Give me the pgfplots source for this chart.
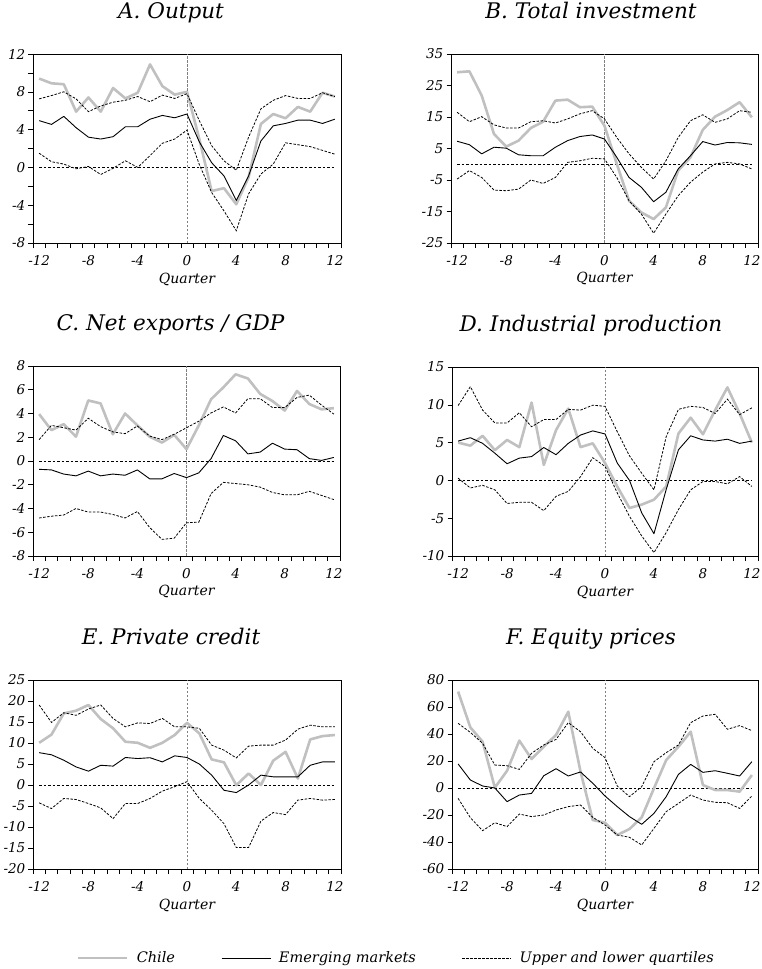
\documentclass[border=0pt]{standalone}
\usepackage{fontspec}
\setmainfont{DejaVu Serif}
\usepackage{pgfplots}
\usepackage{pgfplotstable}
\pgfplotsset{compat=1.18}
\definecolor{chilegray}{RGB}{192,192,192}

\pgfplotstableread{
x c e u l
-12 9.4 4.95 7.25 1.5
-11 8.9 4.55 7.6 0.6
-10 8.8 5.4 8.0 0.35
-9 5.9 4.2 7.25 -0.15
-8 7.4 3.2 5.9 0.1
-7 5.9 3.0 6.5 -0.75
-6 8.4 3.25 6.9 -0.1
-5 7.3 4.3 7.1 0.7
-4 7.9 4.3 7.5 0.0
-3 10.9 5.1 6.95 1.25
-2 8.6 5.5 7.65 2.55
-1 7.7 5.25 7.3 3.0
0 8.0 5.65 7.8 3.95
1 3.0 2.7 4.95 0.3
2 -2.5 0.5 2.3 -2.65
3 -2.2 -0.9 0.7 -4.6
4 -3.9 -3.5 -0.3 -6.7
5 -1.05 -0.9 3.2 -2.8
6 4.6 2.8 6.2 -0.7
7 5.65 4.4 7.1 0.35
8 5.2 4.65 7.6 2.6
9 6.4 5.0 7.3 2.4
10 5.9 5.0 7.3 2.2
11 7.9 4.65 7.9 1.8
12 7.5 5.1 7.5 1.4
}\dataA

\pgfplotstableread{
x c e u l
-12 29.2 7.3 16.5 -4.7
-11 29.5 6.2 13.5 -2.0
-10 21.8 3.3 15.1 -4.2
-9 9.6 5.4 12.5 -8.2
-8 5.6 5.1 11.5 -8.4
-7 7.5 3.0 11.5 -7.9
-6 11.5 2.7 13.5 -5.0
-5 13.5 2.7 13.8 -6.1
-4 20.2 5.4 13.1 -4.2
-3 20.5 7.5 14.4 0.6
-2 18.1 8.8 16.0 1.1
-1 18.3 9.3 17.0 1.9
0 12.2 8.0 14.4 1.7
1 0.1 2.2 8.5 -4.2
2 -11.6 -4.2 3.3 -11.6
3 -15.3 -7.3 -1.0 -15.8
4 -17.4 -11.9 -4.7 -21.9
5 -13.7 -8.9 1.1 -15.8
6 -2.0 -1.5 8.5 -10.0
7 2.2 2.7 13.8 -5.7
8 10.9 7.2 15.7 -2.5
9 15.1 6.1 13.3 0.1
10 17.2 6.9 14.4 0.6
11 19.7 6.8 17.0 0.1
12 14.9 6.3 16.5 -1.5
}\dataB

\pgfplotstableread{
x c e u l
-12 3.95 -0.7 1.8 -4.8
-11 2.6 -0.75 3.0 -4.65
-10 3.1 -1.1 2.8 -4.55
-9 2.05 -1.25 2.6 -4.0
-8 5.1 -0.85 3.6 -4.3
-7 4.85 -1.25 2.9 -4.3
-6 2.25 -1.1 2.45 -4.5
-5 4.0 -1.2 2.3 -4.8
-4 3.0 -0.75 2.95 -4.25
-3 2.05 -1.5 2.1 -5.6
-2 1.55 -1.5 1.8 -6.6
-1 2.2 -1.05 2.25 -6.5
0 1.0 -1.4 2.8 -5.2
1 3.0 -1.0 3.35 -5.15
2 5.2 0.2 4.05 -2.75
3 6.2 2.15 4.55 -1.8
4 7.3 1.7 4.05 -1.9
5 6.95 0.6 5.25 -2.0
6 5.65 0.75 5.25 -2.2
7 5.05 1.5 4.5 -2.65
8 4.25 1.0 4.5 -2.85
9 5.9 0.95 5.35 -2.85
10 4.8 0.2 5.55 -2.55
11 4.35 0.05 4.7 -2.9
12 4.45 0.3 3.95 -3.25
}\dataC

\pgfplotstableread{
x c e u l
-12 5.0 5.2 9.9 0.3
-11 4.6 5.65 12.4 -1.0
-10 5.9 4.9 9.3 -0.65
-9 4.0 3.6 7.6 -1.25
-8 5.35 2.2 7.6 -3.05
-7 4.4 2.95 8.95 -2.9
-6 10.3 3.15 7.1 -2.9
-5 2.05 4.35 8.05 -4.0
-4 6.65 3.4 8.05 -2.1
-3 9.5 4.9 9.4 -1.45
-2 4.4 6.0 9.3 0.5
-1 4.9 6.55 9.95 3.0
0 2.3 6.15 9.8 1.85
1 -0.8 2.3 6.45 -1.65
2 -3.65 0.0 3.25 -4.75
3 -3.2 -4.3 0.95 -7.35
4 -2.55 -7.05 -1.25 -9.55
5 -0.8 -1.2 5.8 -6.9
6 6.2 4.05 9.4 -3.85
7 8.3 5.9 9.8 -1.25
8 6.1 5.35 9.65 -0.15
9 9.3 5.2 8.85 -0.15
10 12.3 5.45 10.75 -0.45
11 8.85 4.9 8.7 0.5
12 5.0 5.2 9.6 -0.8
}\dataD

\pgfplotstableread{
x c e u l
-12 10.05 7.7 19.05 -4.25
-11 12.0 7.2 14.9 -5.6
-10 17.05 5.9 17.2 -3.2
-9 17.7 4.3 16.6 -3.45
-8 19.05 3.3 18.1 -4.4
-7 15.7 4.7 19.05 -5.45
-6 13.5 4.5 15.85 -8.0
-5 10.3 6.55 13.85 -4.4
-4 10.05 6.3 14.8 -4.4
-3 8.85 6.5 14.65 -3.2
-2 10.05 5.5 15.85 -1.45
-1 11.9 6.95 13.85 -0.4
0 14.8 6.55 13.85 0.8
1 12.3 5.0 13.5 -3.2
2 6.1 2.35 9.5 -6.0
3 5.4 -1.25 8.3 -9.2
4 -0.05 -1.8 6.45 -14.9
5 2.75 0.0 9.25 -14.9
6 0.0 2.35 9.5 -8.6
7 5.8 1.95 9.5 -6.55
8 7.9 1.95 10.7 -7.05
9 1.55 1.95 13.3 -3.6
10 10.85 4.7 14.25 -3.2
11 11.65 5.5 13.85 -3.6
12 11.9 5.5 13.85 -3.45
}\dataE

\pgfplotstableread{
x c e u l
-12 71.4 17.8 47.9 -7.7
-11 44.9 5.9 41.2 -22.0
-10 34.3 1.5 33.1 -31.6
-9 0.25 0.0 17.0 -25.7
-8 12.8 -10.1 16.5 -28.6
-7 35.1 -5.2 13.8 -19.3
-6 21.5 -4.0 25.7 -21.2
-5 30.6 9.1 31.9 -20.0
-4 39.3 14.3 36.0 -16.3
-3 56.5 8.9 48.4 -13.8
-2 12.1 11.9 41.7 -12.6
-1 -23.7 3.5 29.4 -21.7
0 -25.7 -5.9 22.5 -27.4
1 -34.8 -13.8 1.5 -34.8
2 -30.4 -21.2 -6.4 -36.5
3 -21.7 -26.9 1.0 -42.2
4 -0.2 -18.8 19.5 -29.9
5 20.7 -6.4 26.2 -17.5
6 30.6 10.1 31.9 -11.4
7 41.7 17.5 48.4 -5.2
8 2.2 11.6 53.3 -8.9
9 -1.5 12.8 54.6 -10.6
10 -1.5 10.9 43.5 -10.9
11 -2.7 8.9 46.2 -15.1
12 9.6 19.5 42.5 -5.9
}\dataF

\pgfplotsset{
  panel/.style={
    scale only axis,
    anchor=north west,
    xmin=-12.5, xmax=12.5,
    xtick={-12,-8,-4,0,4,8,12},
    xticklabels={-12,-8,-4,0,4,8,12},
    minor xtick={-12.5,-11.5,...,12.5},
    major x tick style={draw=none},
    xtick pos=bottom, ytick pos=left,
    tick align=outside,
    every tick/.style={black, line width=0.6pt},
    major tick length=4.5pt, minor tick length=5pt,
    axis line style={line width=0.7pt},
    tick label style={font=\fontsize{13.5}{15}\selectfont\itshape},
    xticklabel style={inner sep=0pt, yshift=-8pt},
    yticklabel style={inner sep=0pt, xshift=-3pt},
    xlabel={Quarter},
    xlabel style={font=\fontsize{14}{16}\selectfont\itshape, at={(axis description cs:0.5,0)}, anchor=base, yshift=-40pt},
    title style={font=\fontsize{21.5}{24}\selectfont\itshape, anchor=base, yshift=30pt},
    clip=false,
  },
  chile/.style={color=chilegray, line width=2.6pt, line join=round},
  em/.style={black, line width=0.9pt, line join=round},
  quart/.style={black, line width=0.8pt, dash pattern=on 2.5pt off 1.5pt},
  zero/.style={black, line width=0.7pt, dash pattern=on 2.5pt off 2pt},
  vline/.style={gray, line width=0.6pt, dash pattern=on 2.5pt off 1.5pt},
}

\newcommand{\panelplots}[3]{% table, ymin, ymax
  \addplot[vline, forget plot] coordinates {(0,#2) (0,#3)};
  \addplot[zero, forget plot] coordinates {(-12,0) (12,0)};
  \addplot[chile] table[x=x,y=c] {#1};
  \addplot[em] table[x=x,y=e] {#1};
  \addplot[quart] table[x=x,y=u] {#1};
  \addplot[quart, forget plot] table[x=x,y=l] {#1};
}

\begin{document}
\begin{tikzpicture}
\useasboundingbox (0pt,0pt) rectangle (762pt,-969pt);

% A
\begin{axis}[panel, at={(33pt,-54pt)}, width=308pt, height=189pt,
  title={A. Output}, title style={at={(axis description cs:0.448,1)}},
  ymin=-8, ymax=12, ytick={-8,-4,0,4,8,12}, yticklabels={-8,-4,0,4,8,12},
  minor ytick={-6,-2,2,6,10}]
\panelplots{\dataA}{-8}{12}
\end{axis}

% B
\begin{axis}[panel, at={(451pt,-54pt)}, width=307pt, height=189pt,
  title={B. Total investment}, title style={at={(axis description cs:0.456,1)}},
  ymin=-25, ymax=35, ytick={-25,-15,-5,5,15,25,35}, yticklabels={-25,-15,-5,5,15,25,35}]
\panelplots{\dataB}{-25}{35}
\end{axis}

% C
\begin{axis}[panel, at={(33pt,-366pt)}, width=307pt, height=190pt,
  title={C. Net exports / GDP}, title style={at={(axis description cs:0.448,1)}},
  ymin=-8, ymax=8, ytick={-8,-6,-4,-2,0,2,4,6,8}, yticklabels={-8,-6,-4,-2,0,2,4,6,8}]
\panelplots{\dataC}{-8}{8}
\end{axis}

% D
\begin{axis}[panel, at={(452pt,-367pt)}, width=306pt, height=189pt,
  title={D. Industrial production}, title style={at={(axis description cs:0.454,1)}},
  ymin=-10, ymax=15, ytick={-10,-5,0,5,10,15}, yticklabels={-10,-5,0,5,10,15}]
\panelplots{\dataD}{-10}{15}
\end{axis}

% E
\begin{axis}[panel, at={(33pt,-680pt)}, width=308pt, height=189pt,
  title={E. Private credit}, title style={at={(axis description cs:0.448,1)}},
  ymin=-20, ymax=25, ytick={-20,-15,-10,-5,0,5,10,15,20,25}, yticklabels={-20,-15,-10,-5,0,5,10,15,20,25},
  legend columns=3,
  legend style={draw=none, fill=none, at={(axis description cs:1.18,-0.471)}, anchor=center,
    font=\fontsize{14.5}{16}\selectfont\itshape,
    /tikz/every even column/.append style={column sep=44pt},
    nodes={inner sep=2pt}},
  legend image code/.code={\draw[#1] (0pt,0pt) -- (49pt,0pt); \path (55pt,0pt);}]
\panelplots{\dataE}{-20}{25}
\legend{Chile, Emerging markets, Upper and lower quartiles}
\end{axis}

% F
\begin{axis}[panel, at={(452pt,-680pt)}, width=306pt, height=189pt,
  title={F. Equity prices}, title style={at={(axis description cs:0.454,1)}},
  ymin=-60, ymax=80, ytick={-60,-40,-20,0,20,40,60,80}, yticklabels={-60,-40,-20,0,20,40,60,80}]
\panelplots{\dataF}{-60}{80}
\end{axis}
\end{tikzpicture}
\end{document}
